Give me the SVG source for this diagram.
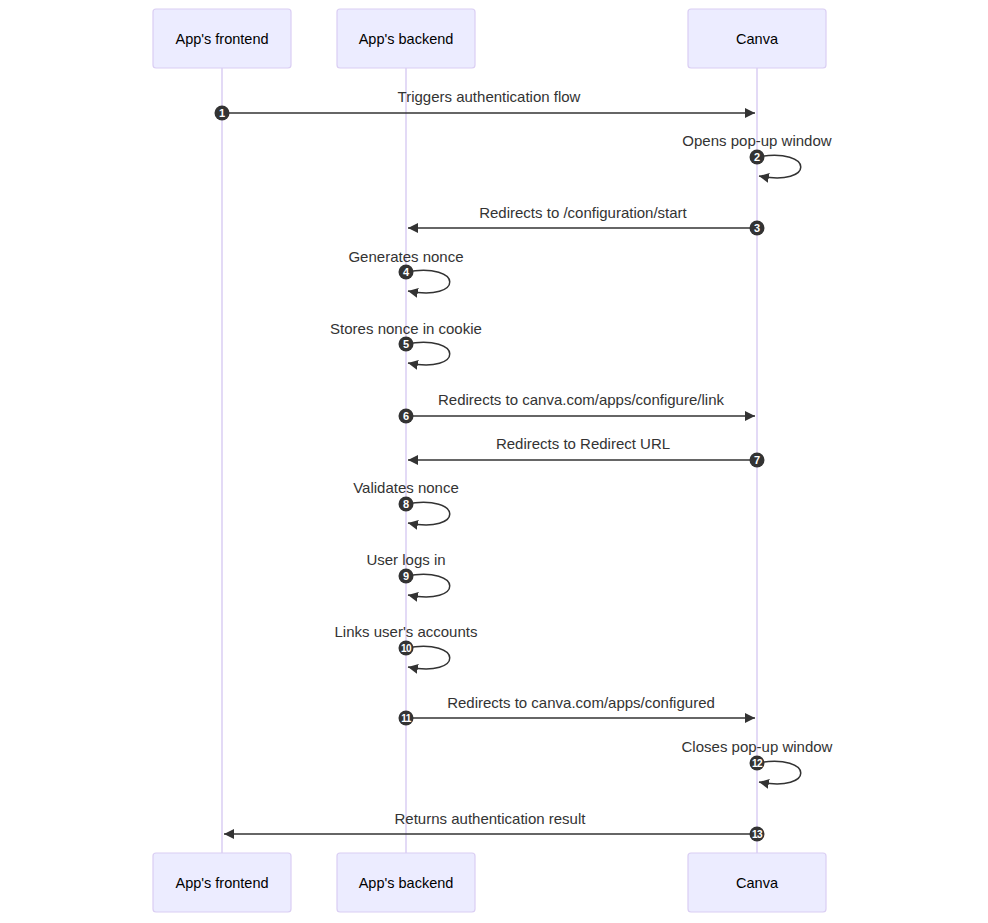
<svg xmlns="http://www.w3.org/2000/svg" width="988" height="923" viewBox="0 0 988 923">
<style>
.actor{fill:#ECECFF;stroke:#DACEF3;stroke-width:1.2}
.atext{font-family:"Liberation Sans",Arial,sans-serif;font-size:14.5px;fill:#000;text-anchor:middle;dominant-baseline:central}
.life{stroke:#DACEF3;stroke-width:1.5;fill:none}
.msg{stroke:#333;stroke-width:1.5;fill:none}
.mtext{font-family:"Liberation Sans",Arial,sans-serif;font-size:15px;fill:#333;text-anchor:middle;dominant-baseline:central}
.num{fill:#333}
.ntext{font-family:"Liberation Sans",Arial,sans-serif;font-size:11px;font-weight:bold;fill:#fff;text-anchor:middle;dominant-baseline:central}
.n2{font-size:10px;letter-spacing:-0.5px}
</style>
<defs>
<marker id="arr" markerWidth="12" markerHeight="12" refX="10" refY="5" orient="auto" markerUnits="userSpaceOnUse">
<path d="M 0 0 L 10 5 L 0 10 z" fill="#333"/>
</marker>
</defs>
<rect width="988" height="923" fill="#fff"/>
<g id="lifelines">
<line class="life" x1="222" y1="68" x2="222" y2="853"/>
<line class="life" x1="406" y1="68" x2="406" y2="853"/>
<line class="life" x1="757" y1="68" x2="757" y2="853"/>
</g>
<g id="frontend-top"><rect class="actor" x="153" y="9" width="138" height="59" rx="3"/><text class="atext" x="222" y="39">App's frontend</text></g>
<g id="backend-top"><rect class="actor" x="337" y="9" width="138" height="59" rx="3"/><text class="atext" x="406" y="39">App's backend</text></g>
<g id="canva-top"><rect class="actor" x="688" y="9" width="138" height="59" rx="3"/><text class="atext" x="757" y="39">Canva</text></g>
<g id="frontend-bottom"><rect class="actor" x="153" y="853" width="138" height="59" rx="3"/><text class="atext" x="222" y="883">App's frontend</text></g>
<g id="backend-bottom"><rect class="actor" x="337" y="853" width="138" height="59" rx="3"/><text class="atext" x="406" y="883">App's backend</text></g>
<g id="canva-bottom"><rect class="actor" x="688" y="853" width="138" height="59" rx="3"/><text class="atext" x="757" y="883">Canva</text></g>
<g id="connectors">
<line class="msg" x1="222" y1="113" x2="755" y2="113" marker-end="url(#arr)"/>
<text class="mtext" x="489" y="96">Triggers authentication flow</text>
<path class="msg" d="M 757 157 C 815 147, 815 187, 759 176" marker-end="url(#arr)"/>
<text class="mtext" x="757" y="140">Opens pop-up window</text>
<line class="msg" x1="757" y1="228" x2="408" y2="228" marker-end="url(#arr)"/>
<text class="mtext" x="583" y="212">Redirects to /configuration/start</text>
<path class="msg" d="M 406 272 C 464 262, 464 302, 408 291" marker-end="url(#arr)"/>
<text class="mtext" x="406" y="256">Generates nonce</text>
<path class="msg" d="M 406 344 C 464 334, 464 374, 408 363" marker-end="url(#arr)"/>
<text class="mtext" x="406" y="328">Stores nonce in cookie</text>
<line class="msg" x1="406" y1="416" x2="755" y2="416" marker-end="url(#arr)"/>
<text class="mtext" x="581" y="399">Redirects to canva.com/apps/configure/link</text>
<line class="msg" x1="757" y1="460" x2="408" y2="460" marker-end="url(#arr)"/>
<text class="mtext" x="583" y="443">Redirects to Redirect URL</text>
<path class="msg" d="M 406 504 C 464 494, 464 534, 408 523" marker-end="url(#arr)"/>
<text class="mtext" x="406" y="487">Validates nonce</text>
<path class="msg" d="M 406 576 C 464 566, 464 606, 408 595" marker-end="url(#arr)"/>
<text class="mtext" x="406" y="559">User logs in</text>
<path class="msg" d="M 406 648 C 464 638, 464 678, 408 667" marker-end="url(#arr)"/>
<text class="mtext" x="406" y="631">Links user's accounts</text>
<line class="msg" x1="406" y1="718" x2="755" y2="718" marker-end="url(#arr)"/>
<text class="mtext" x="581" y="702">Redirects to canva.com/apps/configured</text>
<path class="msg" d="M 757 763 C 815 753, 815 793, 759 782" marker-end="url(#arr)"/>
<text class="mtext" x="757" y="746">Closes pop-up window</text>
<line class="msg" x1="757" y1="834" x2="224" y2="834" marker-end="url(#arr)"/>
<text class="mtext" x="490" y="818">Returns authentication result</text>
</g>
<g id="sequence-numbers">
<circle class="num" cx="222" cy="113" r="7.5"/><text class="ntext" x="222" y="113">1</text>
<circle class="num" cx="757" cy="157" r="7.5"/><text class="ntext" x="757" y="157">2</text>
<circle class="num" cx="757" cy="228" r="7.5"/><text class="ntext" x="757" y="228">3</text>
<circle class="num" cx="406" cy="272" r="7.5"/><text class="ntext" x="406" y="272">4</text>
<circle class="num" cx="406" cy="344" r="7.5"/><text class="ntext" x="406" y="344">5</text>
<circle class="num" cx="406" cy="416" r="7.5"/><text class="ntext" x="406" y="416">6</text>
<circle class="num" cx="757" cy="460" r="7.5"/><text class="ntext" x="757" y="460">7</text>
<circle class="num" cx="406" cy="504" r="7.5"/><text class="ntext" x="406" y="504">8</text>
<circle class="num" cx="406" cy="576" r="7.5"/><text class="ntext" x="406" y="576">9</text>
<circle class="num" cx="406" cy="648" r="7.5"/><text class="ntext n2" x="406" y="648">10</text>
<circle class="num" cx="406" cy="718" r="7.5"/><text class="ntext n2" x="406" y="718">11</text>
<circle class="num" cx="757" cy="763" r="7.5"/><text class="ntext n2" x="757" y="763">12</text>
<circle class="num" cx="757" cy="834" r="7.5"/><text class="ntext n2" x="757" y="834">13</text>
</g>
</svg>
